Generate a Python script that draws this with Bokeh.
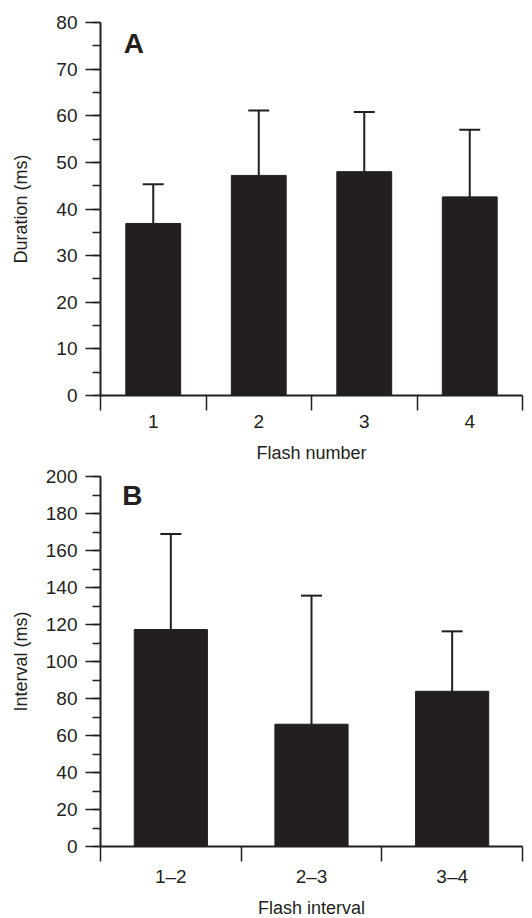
from bokeh.plotting import figure
from bokeh.models import (Range1d, SingleIntervalTicker, FixedTicker, Whisker,
                          TeeHead, ColumnDataSource, Label)
from bokeh.layouts import column
from bokeh.embed import file_html
from bokeh.resources import INLINE

# ---- data ----
flash_numbers = ["1", "2", "3", "4"]
duration_mean = [36.9, 47.2, 48.0, 42.6]
duration_sd = [8.4, 13.9, 12.8, 14.4]

flash_intervals = ["1\u20132", "2\u20133", "3\u20134"]
interval_mean = [117.3, 66.1, 83.9]
interval_sd = [51.6, 69.5, 32.4]

INK = "#231f20"
FONT = "Liberation Sans"


def panel(cats, means, sds, ymax, ystep, ylabel, xlabel, letter, letter_x,
          letter_y, border_top, frame_h, xlabel_standoff, ylabel_standoff):
    n = len(cats)
    xs = list(range(1, n + 1))
    src = ColumnDataSource(dict(x=xs, top=means,
                                upper=[m + s for m, s in zip(means, sds)]))
    p = figure(frame_width=422, frame_height=frame_h,
               x_range=Range1d(0.5, n + 0.5), y_range=Range1d(0, ymax),
               output_backend="svg", toolbar_location=None,
               min_border_left=100, min_border_right=10,
               min_border_top=border_top, min_border_bottom=0)
    p.outline_line_color = None
    p.xgrid.visible = False
    p.ygrid.visible = False

    p.vbar(x="x", top="top", width=0.52, source=src,
           fill_color=INK, line_color=INK, line_width=1)
    p.add_layout(Whisker(source=src, base="x", lower="top", upper="upper",
                         dimension="height", line_color=INK, line_width=2,
                         upper_head=TeeHead(size=21, line_color=INK,
                                            line_width=2),
                         lower_head=None))
    p.add_layout(Label(x=letter_x, y=letter_y, text=letter,
                       text_font=FONT, text_font_style="bold",
                       text_font_size="28px", text_color=INK,
                       text_baseline="alphabetic", text_align="left"))

    # x axis: tick marks at category boundaries, labels at centres
    xa = p.xaxis[0]
    xa.ticker = FixedTicker(ticks=xs, minor_ticks=[i + 0.5 for i in range(n + 1)])
    xa.major_label_overrides = {x: c for x, c in zip(xs, cats)}
    xa.major_tick_line_color = None
    xa.major_tick_out = 15
    xa.major_tick_in = 0
    xa.minor_tick_out = 15
    xa.minor_tick_in = 0
    xa.minor_tick_line_color = INK
    xa.minor_tick_line_width = 1.5
    xa.major_label_standoff = 4
    xa.axis_label = xlabel
    xa.axis_label_standoff = xlabel_standoff

    ya = p.yaxis[0]
    ya.ticker = SingleIntervalTicker(interval=ystep, num_minor_ticks=2)
    ya.major_tick_out = 15
    ya.major_tick_in = 0
    ya.minor_tick_out = 8
    ya.minor_tick_in = 0
    ya.major_tick_line_color = INK
    ya.minor_tick_line_color = INK
    ya.major_tick_line_width = 1.5
    ya.minor_tick_line_width = 1.5
    ya.major_label_standoff = 8
    ya.axis_label = ylabel
    ya.axis_label_standoff = ylabel_standoff

    for ax in (xa, ya):
        ax.axis_line_color = INK
        ax.axis_line_width = 2
        ax.major_label_text_font = FONT
        ax.major_label_text_font_size = "19px"
        ax.major_label_text_color = INK
        ax.axis_label_text_font = FONT
        ax.axis_label_text_font_size = "18px"
        ax.axis_label_text_font_style = "normal"
        ax.axis_label_text_color = INK
    return p


pA = panel(flash_numbers, duration_mean, duration_sd, 80, 10,
           "Duration (ms)", "Flash number", "A", 0.72, 75.5,
           border_top=22, frame_h=373, xlabel_standoff=12, ylabel_standoff=22)
pB = panel(flash_intervals, interval_mean, interval_sd, 200, 20,
           "Interval (ms)", "Flash interval", "B", 0.655, 190.0,
           border_top=11, frame_h=370, xlabel_standoff=8, ylabel_standoff=12)

layout = column(pA, pB, spacing=0)
open("out.html", "w").write(file_html(layout, INLINE))
